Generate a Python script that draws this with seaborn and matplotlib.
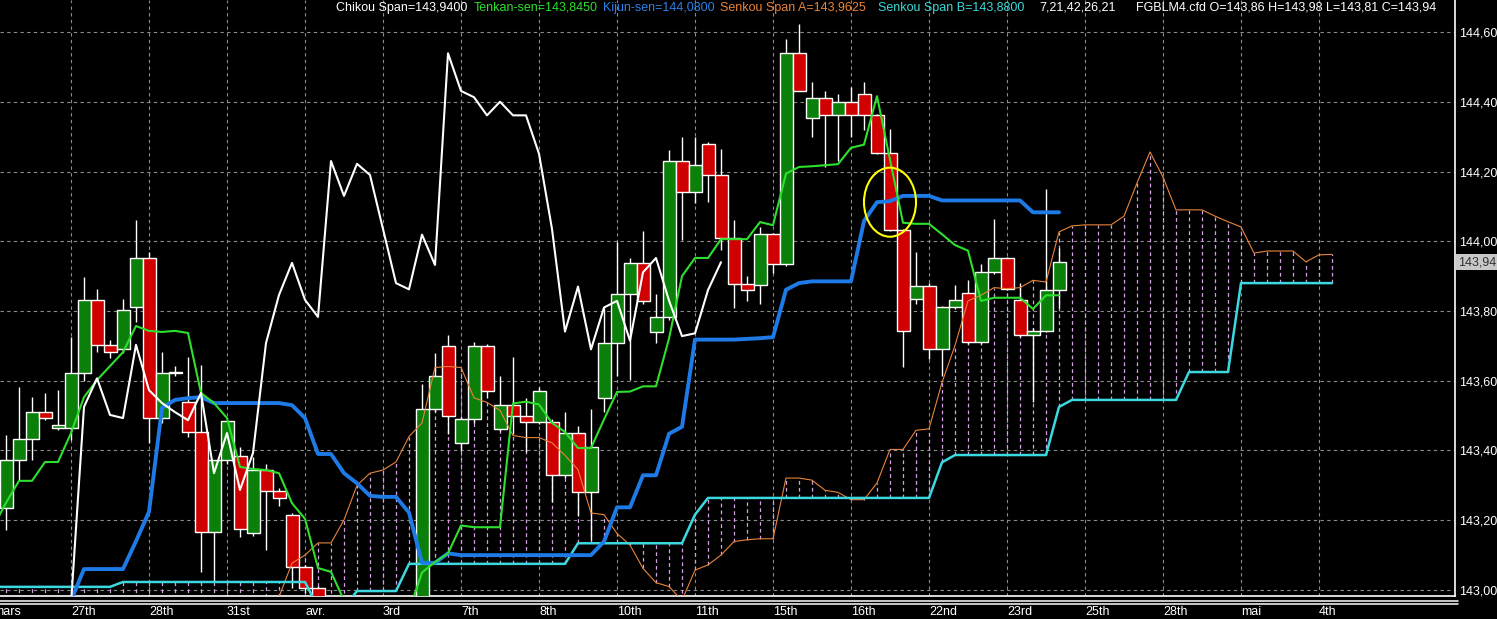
import numpy as np
import pandas as pd
import matplotlib
matplotlib.use("Agg")
import matplotlib.pyplot as plt
import matplotlib.transforms as mtransforms
from matplotlib.lines import Line2D
from matplotlib.patches import Ellipse
import seaborn as sns

# candles, bar 1 .. 82
opens = [143.235, 143.373, 143.433, 143.510, 143.465, 143.465, 143.622, 143.832, 143.703, 143.691,
         143.811, 143.952, 143.493, 143.622, 143.539, 143.453, 143.166, 143.373, 143.384, 143.163,
         143.344, 143.284, 143.215, 143.066, 143.006, 142.950, 142.900, 142.870, 142.900, 142.920,
         142.930, 142.940, 142.950, 143.520, 143.700, 143.422, 143.489, 143.700, 143.463, 143.530,
         143.499, 143.481, 143.481, 143.329, 143.450, 143.281, 143.551, 143.707, 143.849, 143.939,
         143.741, 143.782, 144.230, 144.140, 144.280, 144.191, 144.009, 143.878, 143.874, 144.021,
         143.934, 144.540, 144.352, 144.410, 144.362, 144.400, 144.421, 144.362, 144.254, 144.032,
         143.833, 143.872, 143.691, 143.811, 143.851, 143.712, 143.911, 143.952, 143.831, 143.731,
         143.742, 143.860]
highs = [143.444, 143.582, 143.553, 143.565, 143.573, 143.725, 143.898, 143.863, 143.717, 143.834,
         144.061, 143.969, 143.682, 143.642, 143.668, 143.645, 143.373, 143.486, 143.410, 143.381,
         143.360, 143.292, 143.222, 143.072, 143.012, 142.970, 142.940, 142.930, 142.950, 142.960,
         142.970, 142.970, 143.592, 143.679, 143.731, 143.495, 143.710, 143.705, 143.613, 143.669,
         143.551, 143.582, 143.490, 143.510, 143.470, 143.520, 143.808, 143.999, 143.952, 144.029,
         143.849, 144.261, 144.300, 144.300, 144.285, 144.265, 144.060, 143.901, 144.040, 144.025,
         144.581, 144.623, 144.458, 144.430, 144.421, 144.442, 144.458, 144.365, 144.322, 144.035,
         143.970, 143.880, 143.815, 143.874, 143.888, 143.936, 144.064, 143.955, 143.880, 143.750,
         144.151, 143.980]
lows = [143.172, 143.315, 143.373, 143.487, 143.460, 143.430, 143.600, 143.682, 143.665, 143.680,
        143.768, 143.422, 143.480, 143.615, 143.440, 143.052, 143.023, 143.360, 143.152, 143.155,
        143.115, 143.241, 143.006, 142.990, 142.900, 142.850, 142.820, 142.830, 142.860, 142.880,
        142.880, 142.900, 142.940, 143.510, 143.448, 143.400, 143.480, 143.551, 143.455, 143.448,
        143.396, 143.475, 143.252, 143.320, 143.211, 143.144, 143.510, 143.613, 143.602, 143.820,
        143.707, 143.775, 144.003, 144.110, 144.112, 143.975, 143.808, 143.829, 143.819, 143.909,
        143.930, 144.430, 144.300, 144.213, 144.229, 144.300, 144.320, 144.250, 144.030, 143.640,
        143.820, 143.661, 143.614, 143.805, 143.705, 143.705, 143.905, 143.860, 143.725, 143.540,
        143.740, 143.810]
closes = [143.373, 143.433, 143.510, 143.493, 143.472, 143.622, 143.832, 143.703, 143.682, 143.803,
          143.952, 143.493, 143.622, 143.624, 143.453, 143.166, 143.373, 143.486, 143.175, 143.344,
          143.284, 143.264, 143.066, 143.006, 142.950, 142.900, 142.870, 142.900, 142.920, 142.930,
          142.940, 142.950, 143.520, 143.613, 143.499, 143.489, 143.700, 143.571, 143.530, 143.499,
          143.481, 143.571, 143.329, 143.450, 143.281, 143.409, 143.707, 143.849, 143.939, 143.829,
          143.782, 144.230, 144.140, 144.220, 144.191, 144.009, 143.878, 143.860, 144.021, 143.934,
          144.540, 144.432, 144.410, 144.362, 144.400, 144.362, 144.362, 144.254, 144.032, 143.744,
          143.872, 143.691, 143.811, 143.831, 143.712, 143.911, 143.952, 143.863, 143.731, 143.742,
          143.859, 143.940]

# indicator lines, starting at bar 0
tenkan = [143.18, 143.25, 143.313, 143.313, 143.367, 143.367, 143.450, 143.553, 143.602, 143.642,
          143.682, 143.757, 143.743, 143.740, 143.743, 143.737, 143.565, 143.536, 143.493, 143.353,
          143.347, 143.344, 143.335, 143.249, 143.204, 143.063, 143.052, 142.970, 142.940, 142.940,
          142.940, 142.940, 142.940, 143.050, 143.080, 143.105, 143.185, 143.180, 143.180, 143.180,
          143.535, 143.540, 143.532, 143.479, 143.453, 143.407, 143.407, 143.489, 143.568, 143.569,
          143.584, 143.584, 143.721, 143.900, 143.952, 143.952, 144.006, 144.006, 144.006, 144.055,
          144.046, 144.194, 144.213, 144.215, 144.218, 144.221, 144.268, 144.277, 144.416, 144.234,
          144.053, 144.050, 144.050, 144.020, 143.989, 143.973, 143.829, 143.838, 143.838, 143.838,
          143.806, 143.845, 143.845]
kijun = [142.90, 142.90, 142.90, 142.90, 142.90, 142.90, 142.97, 143.060, 143.060, 143.060,
         143.060, 143.140, 143.224, 143.522, 143.545, 143.550, 143.553, 143.536, 143.536, 143.536,
         143.536, 143.536, 143.536, 143.530, 143.493, 143.390, 143.390, 143.335, 143.306, 143.270,
         143.267, 143.267, 143.222, 143.078, 143.078, 143.105, 143.100, 143.100, 143.100, 143.100,
         143.100, 143.100, 143.100, 143.100, 143.100, 143.100, 143.100, 143.139, 143.237, 143.237,
         143.329, 143.329, 143.448, 143.468, 143.718, 143.718, 143.718, 143.718, 143.720, 143.722,
         143.725, 143.861, 143.880, 143.885, 143.885, 143.885, 143.885, 144.058, 144.112, 144.115,
         144.130, 144.130, 144.130, 144.117, 144.117, 144.117, 144.117, 144.117, 144.117, 144.117,
         144.083, 144.083, 144.083]
chikou = [142.90, 142.90, 142.90, 142.90, 142.90, 142.90, 142.96, 143.525, 143.607, 143.502,
          143.493, 143.703, 143.573, 143.536, 143.510, 143.487, 143.565, 143.335, 143.450, 143.287,
          143.393, 143.708, 143.846, 143.938, 143.832, 143.783, 144.230, 144.130, 144.222, 144.190,
          144.035, 143.880, 143.862, 144.019, 143.932, 144.539, 144.431, 144.413, 144.361, 144.400,
          144.361, 144.361, 144.251, 144.035, 143.741, 143.870, 143.690, 143.810, 143.829, 143.715,
          143.911, 143.952, 143.830, 143.728, 143.736, 143.860, 143.940]
senkou_a = [142.90] * 21 + [
    142.92, 142.98, 143.077, 143.100, 143.135, 143.135, 143.201, 143.300, 143.335, 143.344,
    143.367, 143.440, 143.479, 143.638, 143.641, 143.638, 143.551, 143.538, 143.515, 143.443,
    143.437, 143.437, 143.422, 143.386, 143.345, 143.221, 143.216, 143.162, 143.129, 143.062,
    143.021, 143.010, 142.970, 143.057, 143.072, 143.100, 143.139, 143.144, 143.147, 143.147,
    143.321, 143.321, 143.315, 143.286, 143.280, 143.259, 143.259, 143.307, 143.403, 143.403,
    143.458, 143.462, 143.595, 143.701, 143.829, 143.845, 143.867, 143.864, 143.867, 143.888,
    143.883, 144.027, 144.044, 144.047, 144.047, 144.047, 144.072, 144.167, 144.256, 144.184,
    144.090, 144.090, 144.090, 144.072, 144.056, 144.041, 143.966, 143.972, 143.972, 143.972,
    143.941, 143.961, 143.9625]
senkou_b = ([143.009] * 10 + [143.023] * 15 + [142.95] * 3 + [142.997] * 4 + [143.075] * 13
            + [143.134] * 9 + [143.216] + [143.264] * 18 + [143.366] + [143.387] * 8 + [143.525]
            + [143.545] * 9 + [143.625] * 4 + [143.880] * 8)

tick_pos = list(range(0, 108, 6))
tick_labels = ["mars", "27th", "28th", "31st", "avr.", "3rd", "7th", "8th", "10th", "11th",
               "15th", "16th", "22nd", "23rd", "25th", "28th", "mai", "4th"]

header = [
    (336, "Chikou Span=143,9400", "#ffffff"),
    (474, "Tenkan-sen=143,8450", "#2ee02e"),
    (603, "Kijun-sen=144,0800", "#2a80e8"),
    (720, "Senkou Span A=143,9625", "#e8843a"),
    (878, "Senkou Span B=143,8800", "#3cd8d8"),
    (1039, "7,21,42,26,21", "#ffffff"),
    (1136, "FGBLM4.cfd O=143,86 H=143,98 L=143,81 C=143,94", "#ffffff"),
]

sns.set_style("dark")
plt.rcParams['font.family'] = ['Liberation Sans', 'DejaVu Sans']

W, H = 1497, 619
fig = plt.figure(figsize=(W / 100, H / 100), dpi=100, facecolor="black")
ax = fig.add_axes([0, 23 / H, 1455 / W, 596 / H])
ax.set_facecolor("black")

candles = pd.DataFrame({"bar": np.arange(1, 83), "o": opens, "h": highs, "l": lows, "c": closes})
lines = pd.DataFrame({"bar": np.arange(len(senkou_a)), "a": senkou_a, "b": senkou_b})
lines["tenkan"] = pd.Series(tenkan)
lines["kijun"] = pd.Series(kijun)
lines["chikou"] = pd.Series(chikou)

# cloud hatching
ax.vlines(lines["bar"], lines[["a", "b"]].min(axis=1), lines[["a", "b"]].max(axis=1),
          colors="#d8a0e4", linestyles=(0, (3, 2.5)), linewidth=0.9, zorder=2)

# candles
up = candles["c"] >= candles["o"]
ax.vlines(candles["bar"], candles["l"], candles["h"], colors="white", linewidth=1, zorder=3)
body = (candles["c"] - candles["o"]).abs().clip(lower=0.002)
ax.bar(candles["bar"], body, bottom=candles[["o", "c"]].min(axis=1), width=1.0,
       color=np.where(up, "#0a800a", "#d00000"), edgecolor="white", linewidth=1, zorder=4)

sns.lineplot(data=lines, x="bar", y="a", ax=ax, color="#e8843a", linewidth=0.8, zorder=5)
sns.lineplot(data=lines, x="bar", y="b", ax=ax, color="#3cd8e0", linewidth=1.8, zorder=5)
sns.lineplot(data=lines.dropna(subset=["kijun"]), x="bar", y="kijun", ax=ax,
             color="#1e7ae6", linewidth=2.8, zorder=6)
sns.lineplot(data=lines.dropna(subset=["tenkan"]), x="bar", y="tenkan", ax=ax,
             color="#2ee02e", linewidth=1.5, zorder=6)
sns.lineplot(data=lines.dropna(subset=["chikou"]), x="bar", y="chikou", ax=ax,
             color="white", linewidth=1.5, zorder=6)

ax.add_patch(Ellipse((69, 144.112), 4.0, 0.198, fill=False, edgecolor="#ffff00",
                     linewidth=1.5, zorder=7))

ax.set_xlim(7 / 13, 1462 / 13)
ax.set_ylim(144.60 - 564 / 348.75, 144.60 + 32 / 348.75)

yt = np.round(np.arange(143.0, 144.61, 0.2), 2)
ax.set_yticks(yt)
ax.set_yticklabels([f"{v:.2f}".replace(".", ",") for v in yt])
ax.yaxis.tick_right()
ax.set_xticks(tick_pos[1:])
ax.tick_params(axis="x", length=0, labelbottom=False)
ax.tick_params(axis="y", length=0, pad=3, labelcolor="white", labelsize=9)
ax.grid(True, color="#8c8c8c", linestyle=(0, (3, 3)), linewidth=0.8)
ax.set_axisbelow(True)
ax.set_xlabel("")
ax.set_ylabel("")
for s in ["top", "left"]:
    ax.spines[s].set_visible(False)
for s in ["right", "bottom"]:
    ax.spines[s].set_visible(True)
    ax.spines[s].set_color("white")
    ax.spines[s].set_linewidth(1.2)

trans = mtransforms.blended_transform_factory(ax.transData, ax.transAxes)
for p, lab in zip(tick_pos, tick_labels):
    ax.text(p, -16 / 596, lab, transform=trans, ha="left", va="center", color="white",
            fontsize=9, clip_on=False)

for yy in (601, 603.5):
    fig.add_artist(Line2D([0, 1458 / W], [1 - yy / H] * 2, color="white", linewidth=1.1))

for x, s, c in header:
    fig.text(x / W, 1 - 8 / H, s, color=c, fontsize=9, ha="left", va="center")

tr2 = mtransforms.blended_transform_factory(ax.transAxes, ax.transData)
ax.text(1.0 + 3 / 1455, 143.94, "143,94", transform=tr2, ha="left", va="center",
        fontsize=9, color="#303030", clip_on=False,
        bbox=dict(boxstyle="square,pad=0.15", fc="#c8c8c8", ec="none"))

fig.savefig("out.png", dpi=100, facecolor="black")
